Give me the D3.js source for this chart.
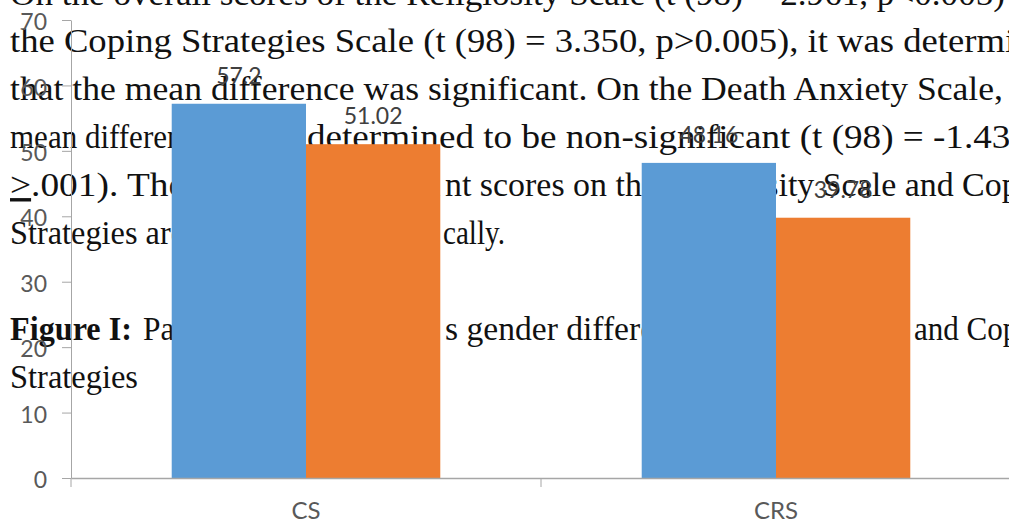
<!DOCTYPE html>
<html>
<head>
<meta charset="utf-8">
<script src="https://cdn.jsdelivr.net/npm/d3@7"></script>
<style>
  body { margin: 0; background: #fff; }
  svg { display: block; }
</style>
</head>
<body>
<div id="chart"></div>
<script>
// chart data
const categories = ['CS', 'CRS'];
const series = ['Male', 'Female'];
const male_values = [57.2, 48.16];
const female_values = [51.02, 39.78];
const male_labels = ['57.2', '48.16'];
const female_labels = ['51.02', '39.78'];
const y_ticks = [0, 10, 20, 30, 40, 50, 60, 70];
const colors = ['#5b9bd5', '#ed7d31'];

// the page text that sits behind the chart (line index, text, left, right)
const page_text = [
  { line: 0, t: 'On the overall scores of the Religiosity Scale (t (98) = 2.961, p<0.005)', x0: 10, x1: 1005 },
  { line: 1, t: 'the Coping Strategies Scale (t (98) = 3.350, p>0.005), it was determined', x0: 10, x1: 1068 },
  { line: 2, t: 'that the mean difference was significant. On the Death Anxiety Scale,', x0: 10, x1: 1003 },
  { line: 3, t: 'mean difference was', x0: 10, x1: 266 },
  { line: 3, t: 'determined to be non-significant (t (98) = -1.434, p', x0: 307, x1: 1066 },
  { line: 4, ul: '>', t: '.001).  The', x0: 10, x1: 185 },
  { line: 4, t: 'differences in participa', x0: 200, x1: 440 },
  { line: 4, t: 'nt scores on the Religiosity Scale and Coping', x0: 445, x1: 1062 },
  { line: 5, t: 'Strategies are', x0: 10, x1: 185 },
  { line: 5, t: 'significant statisti', x0: 195, x1: 440 },
  { line: 5, t: 'cally.', x0: 443, x1: 505 },
  { line: 7, bold: true, t: 'Figure I:', x0: 10, x1: 132 },
  { line: 7, t: 'Participant scores acros', x0: 143, x1: 440 },
  { line: 7, t: 's gender differences in Religiosity', x0: 445, x1: 905 },
  { line: 7, t: 'and Coping', x0: 914, x1: 1058 },
  { line: 8, t: 'Strategies', x0: 10, x1: 138 }
];

const WIDTH = 1009;
const HEIGHT = 524;
const LINE_Y0 = 4.5;
const LINE_H = 47.9;
const AXIS_COLOR = '#a6a6a6';
const LABEL_COLOR = '#595959';
const SANS = 'Lato, "Open Sans", sans-serif';

const svg = d3.select('#chart').append('svg')
  .attr('width', WIDTH)
  .attr('height', HEIGHT);

// page text first, the bars cover parts of it
const page = svg.append('g')
  .attr('font-family', '"Liberation Serif", serif')
  .attr('font-size', 34)
  .attr('fill', '#111');

page_text.forEach(s => {
  let t = page.append('text')
    .attr('x', s.x0)
    .attr('y', LINE_Y0 + s.line * LINE_H)
    .attr('textLength', s.x1 - s.x0)
    .attr('lengthAdjust', 'spacingAndGlyphs');
  if (s.bold) t.attr('font-weight', 'bold');
  if (s.ul) t.append('tspan').attr('text-decoration', 'underline').text(s.ul);
  t.append('tspan').text(s.t);
});

// scales
const x = d3.scaleBand().domain(categories).range([71, 1011]);
const xs = d3.scaleBand().domain(series).range([0, x.bandwidth()]).paddingOuter(0.75);
const y = d3.scaleLinear().domain([0, 70]).range([478, 20]);

const values = [male_values, female_values];
const labels = [male_labels, female_labels];

// bars
series.forEach((s, i) => {
  svg.append('g').selectAll('rect')
    .data(categories)
    .join('rect')
    .attr('x', c => x(c) + xs(s))
    .attr('y', (c, j) => y(values[i][j]))
    .attr('width', xs.bandwidth())
    .attr('height', (c, j) => y(0) - y(values[i][j]))
    .attr('fill', colors[i]);
});

// y axis
const yAxis = svg.append('g')
  .attr('transform', 'translate(71,0)')
  .call(d3.axisLeft(y).tickValues(y_ticks).tickSize(9).tickSizeOuter(0).tickPadding(15));
yAxis.select('.domain').attr('stroke', AXIS_COLOR);
yAxis.selectAll('.tick line').attr('stroke', AXIS_COLOR);
yAxis.selectAll('.tick text')
  .attr('font-family', SANS)
  .attr('font-size', 23)
  .attr('fill', LABEL_COLOR)
  .attr('dy', '0.42em');

// x axis: line, boundary ticks, category names
const xAxis = svg.append('g')
  .attr('transform', 'translate(0,' + y(0) + ')')
  .call(d3.axisBottom(x).tickSize(0).tickSizeOuter(0));
xAxis.select('.domain').attr('stroke', AXIS_COLOR).attr('stroke-width', 1.5);
xAxis.selectAll('.tick text')
  .attr('font-family', SANS)
  .attr('font-size', 24)
  .attr('fill', LABEL_COLOR)
  .attr('y', 41)
  .attr('dy', 0);

const bounds = categories.map(c => x(c)).concat([x.range()[1]]);
svg.append('g').selectAll('line')
  .data(bounds)
  .join('line')
  .attr('x1', d => d)
  .attr('x2', d => d)
  .attr('y1', y(0))
  .attr('y2', y(0) + 9)
  .attr('stroke', AXIS_COLOR);

// data labels
series.forEach((s, i) => {
  svg.append('g').selectAll('text')
    .data(categories)
    .join('text')
    .attr('x', c => x(c) + xs(s) + xs.bandwidth() / 2)
    .attr('y', (c, j) => y(values[i][j]) - 20)
    .attr('text-anchor', 'middle')
    .attr('font-family', SANS)
    .attr('font-size', 23)
    .attr('fill', '#404040')
    .text((c, j) => labels[i][j]);
});
</script>
</body>
</html>
